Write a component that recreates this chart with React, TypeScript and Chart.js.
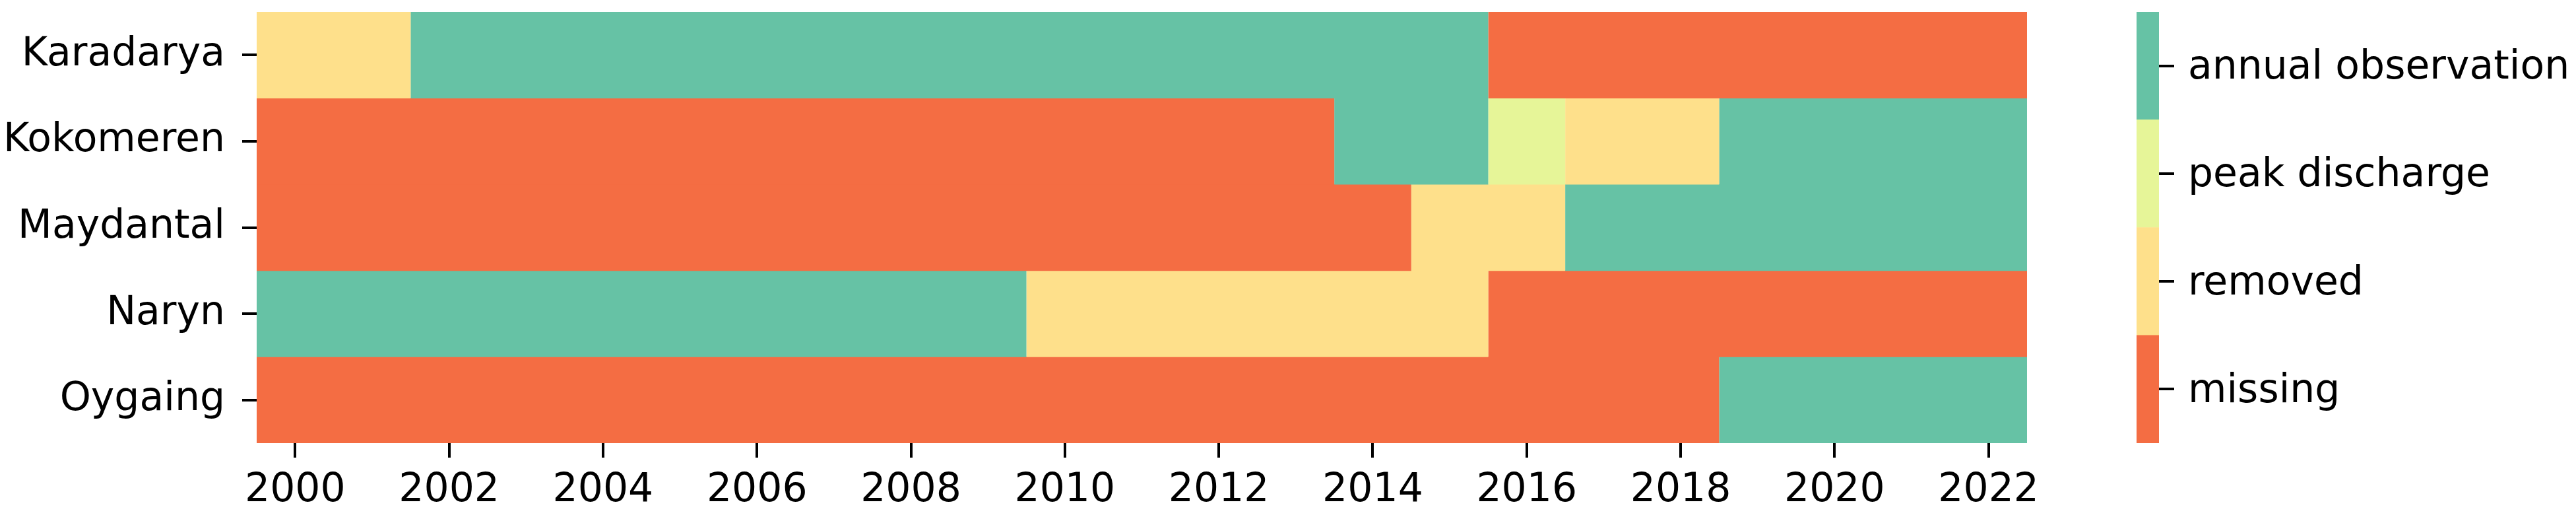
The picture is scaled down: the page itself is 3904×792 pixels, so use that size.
import React, { useEffect, useRef } from "react";
import { Chart, registerables } from "chart.js";

Chart.register(...registerables);

const stations = ["Karadarya", "Kokomeren", "Maydantal", "Naryn", "Oygaing"];
const years = [2000, 2001, 2002, 2003, 2004, 2005, 2006, 2007, 2008, 2009, 2010, 2011, 2012, 2013, 2014, 2015, 2016, 2017, 2018, 2019, 2020, 2021, 2022];
const xTickYears = [2000, 2002, 2004, 2006, 2008, 2010, 2012, 2014, 2016, 2018, 2020, 2022];

// status codes: 0 missing, 1 removed, 2 peak discharge, 3 annual observation
const statusLabels = ["missing", "removed", "peak discharge", "annual observation"];
const statusColors = ["#f46d43", "#fee08b", "#e6f598", "#66c2a5"];

const karadarya = [1, 1, 3, 3, 3, 3, 3, 3, 3, 3, 3, 3, 3, 3, 3, 3, 0, 0, 0, 0, 0, 0, 0];
const kokomeren = [0, 0, 0, 0, 0, 0, 0, 0, 0, 0, 0, 0, 0, 0, 3, 3, 2, 1, 1, 3, 3, 3, 3];
const maydantal = [0, 0, 0, 0, 0, 0, 0, 0, 0, 0, 0, 0, 0, 0, 0, 1, 1, 3, 3, 3, 3, 3, 3];
const naryn = [3, 3, 3, 3, 3, 3, 3, 3, 3, 3, 1, 1, 1, 1, 1, 1, 0, 0, 0, 0, 0, 0, 0];
const oygaing = [0, 0, 0, 0, 0, 0, 0, 0, 0, 0, 0, 0, 0, 0, 0, 0, 0, 0, 0, 3, 3, 3, 3];

const statusRows = [karadarya, kokomeren, maydantal, naryn, oygaing];

const FONT = "'DejaVu Sans', sans-serif";
const FONT_SIZE = 60;

function buildRunDatasets() {
  const ds: any[] = [];
  statusRows.forEach((row, r) => {
    let start = 0;
    for (let i = 1; i <= row.length; i++) {
      if (i === row.length || row[i] !== row[start]) {
        const data: any[] = stations.map(() => null);
        data[r] = [years[start] - 0.5, years[i - 1] + 0.5];
        ds.push({
          data,
          backgroundColor: statusColors[row[start]],
          borderWidth: 0,
          grouped: false,
          categoryPercentage: 1,
          barPercentage: 1.006,
        });
        start = i;
      }
    }
  });
  return ds;
}

function zeroPad(s: any) {
  s.paddingTop = 0;
  s.paddingBottom = 0;
  s.paddingLeft = 0;
  s.paddingRight = 0;
}

export default function App() {
  const mainRef = useRef<HTMLCanvasElement>(null);
  const barRef = useRef<HTMLCanvasElement>(null);

  useEffect(() => {
    Chart.defaults.font.family = FONT;
    Chart.defaults.color = "#000";
    const main = new Chart(mainRef.current!, {
      type: "bar",
      data: { labels: stations, datasets: buildRunDatasets() },
      options: {
        indexAxis: "y",
        animation: false,
        responsive: false,
        layout: { padding: { left: 0, top: 18, right: 30, bottom: 0 } },
        plugins: { legend: { display: false }, tooltip: { enabled: false } },
        scales: {
          x: {
            type: "linear",
            min: years[0] - 0.5,
            max: years[years.length - 1] + 0.5,
            afterBuildTicks: (s: any) => {
              s.ticks = xTickYears.map((v) => ({ value: v }));
            },
            afterFit: (s: any) => {
              s.height = 121;
              zeroPad(s);
            },
            ticks: {
              autoSkip: false,
              maxRotation: 0,
              padding: 14,
              color: "#000",
              font: { size: FONT_SIZE, family: FONT },
              callback: (v: any) => String(v),
            },
            grid: { drawOnChartArea: false, color: "#000", lineWidth: 4, tickLength: 22 },
            border: { display: false },
          },
          y: {
            type: "category",
            afterFit: (s: any) => {
              s.width = 389;
              zeroPad(s);
            },
            ticks: {
              padding: 26,
              color: "#000",
              font: { size: FONT_SIZE, family: FONT },
            },
            grid: { drawOnChartArea: false, offset: false, color: "#000", lineWidth: 4, tickLength: 22 },
            border: { display: false },
          },
        },
      },
    });

    const bar = new Chart(barRef.current!, {
      type: "bar",
      data: {
        labels: [""],
        datasets: statusColors.map((c) => ({
          data: [1],
          backgroundColor: c,
          borderWidth: 0,
          categoryPercentage: 1,
          barPercentage: 1,
        })),
      },
      options: {
        animation: false,
        responsive: false,
        layout: { padding: { left: 38, top: 18, right: 0, bottom: 121 } },
        plugins: { legend: { display: false }, tooltip: { enabled: false } },
        scales: {
          x: { type: "category", display: false, stacked: true },
          y: {
            type: "linear",
            position: "right",
            stacked: true,
            min: 0,
            max: statusLabels.length,
            afterBuildTicks: (s: any) => {
              s.ticks = statusLabels.map((_, i) => ({ value: i + 0.5 }));
            },
            afterFit: (s: any) => {
              s.width = 632;
              zeroPad(s);
            },
            ticks: {
              autoSkip: false,
              padding: 21,
              labelOffset: 4,
              color: "#000",
              font: { size: FONT_SIZE, family: FONT },
              callback: (v: any) => statusLabels[Math.floor(Number(v))],
            },
            grid: { drawOnChartArea: false, color: "#000", lineWidth: 4, tickLength: 23 },
            border: { display: false },
          },
        },
      },
    });

    return () => {
      main.destroy();
      bar.destroy();
    };
  }, []);

  return (
    <div style={{ position: "absolute", left: 0, top: 0, width: 3904, height: 792, background: "#fff" }}>
      <canvas
        ref={mainRef}
        width={3102}
        height={792}
        style={{ position: "absolute", left: 0, top: 0, width: 3102, height: 792 }}
      />
      <canvas
        ref={barRef}
        width={704}
        height={792}
        style={{ position: "absolute", left: 3200, top: 0, width: 704, height: 792 }}
      />
    </div>
  );
}
